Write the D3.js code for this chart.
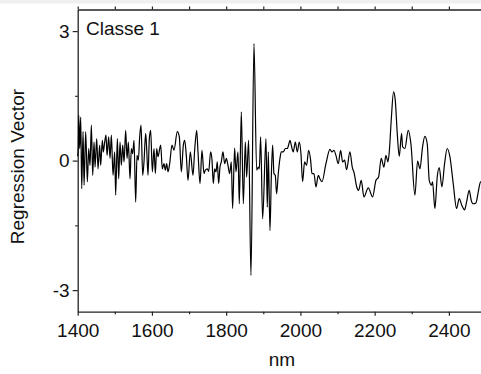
<!DOCTYPE html>
<html>
<head>
<meta charset="utf-8">
<script src="https://cdn.jsdelivr.net/npm/d3@7"></script>
<style>
  html, body { margin: 0; padding: 0; background: #fff; }
  svg { display: block; }
  text { font-family: "Liberation Sans", Arial, sans-serif; fill: #111; }
</style>
</head>
<body>
<svg id="chart" width="481" height="374"></svg>
<script>
// ---- data ----
const wavelength = [
  1400.0, 1401.8, 1402.7, 1405.4, 1408.1, 1410.8, 1414.4, 1417.1, 1421.5, 1426.0,
  1429.6, 1433.2, 1436.8, 1440.4, 1444.0, 1446.7, 1451.2, 1454.8, 1459.2, 1461.9,
  1466.4, 1469.1, 1472.7, 1476.3, 1479.0, 1483.5, 1487.1, 1490.7, 1495.2, 1499.6,
  1502.3, 1506.8, 1510.4, 1514.0, 1517.6, 1521.2, 1524.8, 1529.3, 1532.9, 1536.5,
  1540.9, 1544.5, 1548.1, 1551.7, 1556.2, 1559.8, 1563.4, 1567.0, 1570.6, 1575.1,
  1578.6, 1583.1, 1585.8, 1589.4, 1593.0, 1596.6, 1601.1, 1605.6, 1609.2, 1612.8,
  1616.3, 1623.5, 1628.0, 1632.5, 1636.1, 1639.7, 1643.3, 1647.8, 1654.0, 1659.4,
  1668.4, 1673.8, 1679.2, 1684.6, 1688.2, 1692.6, 1697.1, 1703.4, 1710.6, 1715.1,
  1720.5, 1724.1, 1729.5, 1734.8, 1740.2, 1743.8, 1749.2, 1752.8, 1758.2, 1761.8,
  1765.4, 1768.9, 1772.5, 1776.1, 1779.7, 1783.3, 1786.9, 1791.4, 1795.9, 1800.4,
  1804.9, 1809.4, 1813.8, 1817.4, 1822.8, 1826.4, 1831.8, 1835.4, 1840.8, 1846.2,
  1851.6, 1855.1, 1860.5, 1866.8, 1874.9, 1882.1, 1886.6, 1889.3, 1892.9, 1898.2,
  1907.2, 1910.8, 1913.5, 1918.0, 1921.6, 1925.2, 1928.7, 1932.3, 1935.9, 1940.4,
  1944.9, 1948.5, 1953.9, 1959.3, 1964.7, 1968.2, 1971.8, 1976.3, 1980.8, 1986.2,
  1991.6, 1997.0, 2001.5, 2005.9, 2011.3, 2016.7, 2022.1, 2027.5, 2031.1, 2036.5,
  2041.9, 2048.1, 2052.6, 2058.0, 2068.8, 2079.6, 2085.0, 2090.3, 2095.7, 2102.0,
  2108.3, 2113.7, 2119.1, 2124.4, 2133.4, 2139.7, 2145.1, 2151.4, 2156.8, 2163.9,
  2171.1, 2182.8, 2194.5, 2203.4, 2210.6, 2217.8, 2225.0, 2230.4, 2235.8, 2239.4,
  2244.7, 2251.0, 2255.5, 2260.9, 2266.3, 2272.6, 2275.3, 2281.5, 2290.5, 2297.7,
  2308.5, 2315.7, 2322.0, 2329.1, 2335.4, 2341.7, 2347.1, 2353.4, 2356.0, 2362.3,
  2368.6, 2374.0, 2381.2, 2388.4, 2395.5, 2402.7, 2411.7, 2420.7, 2427.9, 2435.0,
  2442.2, 2447.6, 2454.8, 2460.2, 2465.6, 2472.7, 2479.9, 2485.3, 2492.0, 2500.0
];
const regression = [
   0.10,  0.36,  1.05,  0.28,  1.01, -0.65,  0.67, -0.57,  0.67, -0.49,
   0.28, -0.11,  0.82, -0.34,  0.43, -0.15,  0.51, -0.19,  0.36, -0.11,
   0.47,  0.20,  0.43,  0.59,  0.12,  0.55,  0.05,  0.59, -0.34,  0.20,
  -0.80,  0.51, -0.42,  0.43, -0.11,  0.36, -0.03,  0.70,  0.05,  0.43,
  -0.42,  0.28,  0.16,  0.47, -0.96,  0.12,  0.01,  0.55,  0.82, -0.34,
  -0.03,  0.63,  0.28, -0.34,  0.51,  0.70, -0.26,  0.28, -0.30,  0.28,
   0.09,  0.36, -0.19, -0.07, -0.22, -0.07, -0.26, -0.07,  0.36,  0.24,
   0.67,  0.55, -0.26,  0.36,  0.47,  0.12, -0.46,  0.20, -0.34,  0.24,
   0.70,  0.20, -0.53,  0.24, -0.30, -0.22, -0.19, -0.25,  0.20,  0.01,
  -0.53, -0.19, -0.26, -0.03, -0.53, -0.15, -0.03,  0.20, -0.07,  0.05,
  -0.11, -0.30, -0.03, -1.11,  0.29, -0.26,  0.20, -1.00,  1.13, -1.00,
   0.43, -0.38,  0.47, -2.66,  2.71, -0.22, -0.15, -0.19,  0.55, -1.35,
   0.51, -1.08,  0.20, -1.62, -0.38,  0.36, -0.30, -0.34, -0.77, -0.30,
   0.05,  0.20,  0.20,  0.28,  0.28,  0.36,  0.47,  0.32,  0.20,  0.43,
   0.20,  0.43,  0.16, -0.49, -0.03, -0.11,  0.24,  0.01, -0.30, -0.30,
  -0.61, -0.34, -0.42, -0.49, -0.07,  0.26,  0.20,  0.24,  0.12, -0.07,
   0.24, -0.03,  0.01, -0.21,  0.20, -0.15, -0.30, -0.60, -0.69, -0.46,
  -0.84, -0.63, -0.84, -0.46, -0.38,  0.05, -0.15,  0.12, -0.03,  0.20,
   0.94,  1.59,  1.40,  0.63,  0.10,  0.63,  0.32,  0.28,  0.70,  0.39,
  -0.80, -0.01, -0.19,  0.32,  0.56,  0.39, -0.46, -0.57, -0.49, -1.11,
  -0.38, -0.16, -0.61, -0.07,  0.28,  0.09, -0.53, -1.11, -0.88, -1.04,
  -1.14, -0.96, -0.69, -0.92, -1.00, -0.98, -0.69, -0.49, -0.55, -0.70
];
const xTicks = [1400, 1600, 1800, 2000, 2200, 2400];
const xMinorTicks = [1500, 1700, 1900, 2100, 2300];
const yTicks = [-3, 0, 3];
const yMinorTicks = [-1.5, 1.5];
const panelLabel = "Classe 1";
const xTitle = "nm";
const yTitle = "Regression Vector";

// ---- drawing ----
(function () {
const svg = d3.select("#chart");
const W = 481;
const mLeft = 77.7, mRight = 486, mTop = 9.5, mBottom = 311.7;

// light grey strip at the very top (cut edge of the page above)
svg.append("rect").attr("x", 0).attr("y", 0).attr("width", W).attr("height", 3.5).attr("fill", "#f0f0f0");

const x = d3.scaleLinear().domain([1400, 2500]).range([mLeft, mRight]);
const y = d3.scaleLinear().domain([-3.5, 3.5]).range([mBottom, mTop]);

const axisColor = "#222";

function styleAxis(g) {
  g.select(".domain").attr("stroke", axisColor).attr("stroke-width", 1.3);
  g.selectAll(".tick line").attr("stroke", axisColor).attr("stroke-width", 1.2);
  g.selectAll(".tick text").attr("font-size", 19).attr("fill", "#111")
    .attr("font-family", '"Liberation Sans", Arial, sans-serif');
}

// bottom axis (major + minor)
const gx = svg.append("g").attr("transform", `translate(0,${mBottom})`)
  .call(d3.axisBottom(x).tickValues(xTicks).tickFormat(d3.format("d")).tickSize(4).tickPadding(3).tickSizeOuter(0));
styleAxis(gx);
gx.selectAll(".tick text").attr("dy", "0.95em");
const gxm = svg.append("g").attr("transform", `translate(0,${mBottom})`)
  .call(d3.axisBottom(x).tickValues(xMinorTicks).tickFormat("").tickSize(2.5).tickSizeOuter(0));
styleAxis(gxm);
gxm.select(".domain").remove();

// top axis (ticks only, mirrored)
const gt = svg.append("g").attr("transform", `translate(0,${mTop})`)
  .call(d3.axisTop(x).tickValues(xTicks.concat(xMinorTicks)).tickFormat("").tickSize(3).tickSizeOuter(0));
styleAxis(gt);

// left axis
const gy = svg.append("g").attr("transform", `translate(${mLeft},0)`)
  .call(d3.axisLeft(y).tickValues(yTicks).tickFormat(d3.format("d")).tickSize(5).tickPadding(3).tickSizeOuter(0));
styleAxis(gy);
gy.selectAll(".tick text").text(d => d < 0 ? "-" + Math.abs(d) : d);
const gym = svg.append("g").attr("transform", `translate(${mLeft},0)`)
  .call(d3.axisLeft(y).tickValues(yMinorTicks).tickFormat("").tickSize(2.5).tickSizeOuter(0));
styleAxis(gym);
gym.select(".domain").remove();

// right frame line (falls just outside the window, like the reference)
svg.append("line").attr("x1", mRight).attr("x2", mRight).attr("y1", mTop).attr("y2", mBottom)
  .attr("stroke", axisColor).attr("stroke-width", 1.3);

// data line
const pts = wavelength.map((w, i) => [w, regression[i]]);
const line = d3.line().x(d => x(d[0])).y(d => y(d[1])).curve(d3.curveMonotoneX);
svg.append("path").datum(pts).attr("d", line)
  .attr("fill", "none").attr("stroke", "#000").attr("stroke-width", 1.2).attr("stroke-linejoin", "round");

// labels
svg.append("text").attr("x", 86).attr("y", 34.5).attr("font-size", 19).text(panelLabel);
svg.append("text").attr("x", x(1950)).attr("y", 366).attr("text-anchor", "middle").attr("font-size", 19).text(xTitle);
svg.append("text").attr("transform", `translate(24,${(mTop + mBottom) / 2 + 6}) rotate(-90)`)
  .attr("text-anchor", "middle").attr("font-size", 19).text(yTitle);
})();
</script>
</body>
</html>
